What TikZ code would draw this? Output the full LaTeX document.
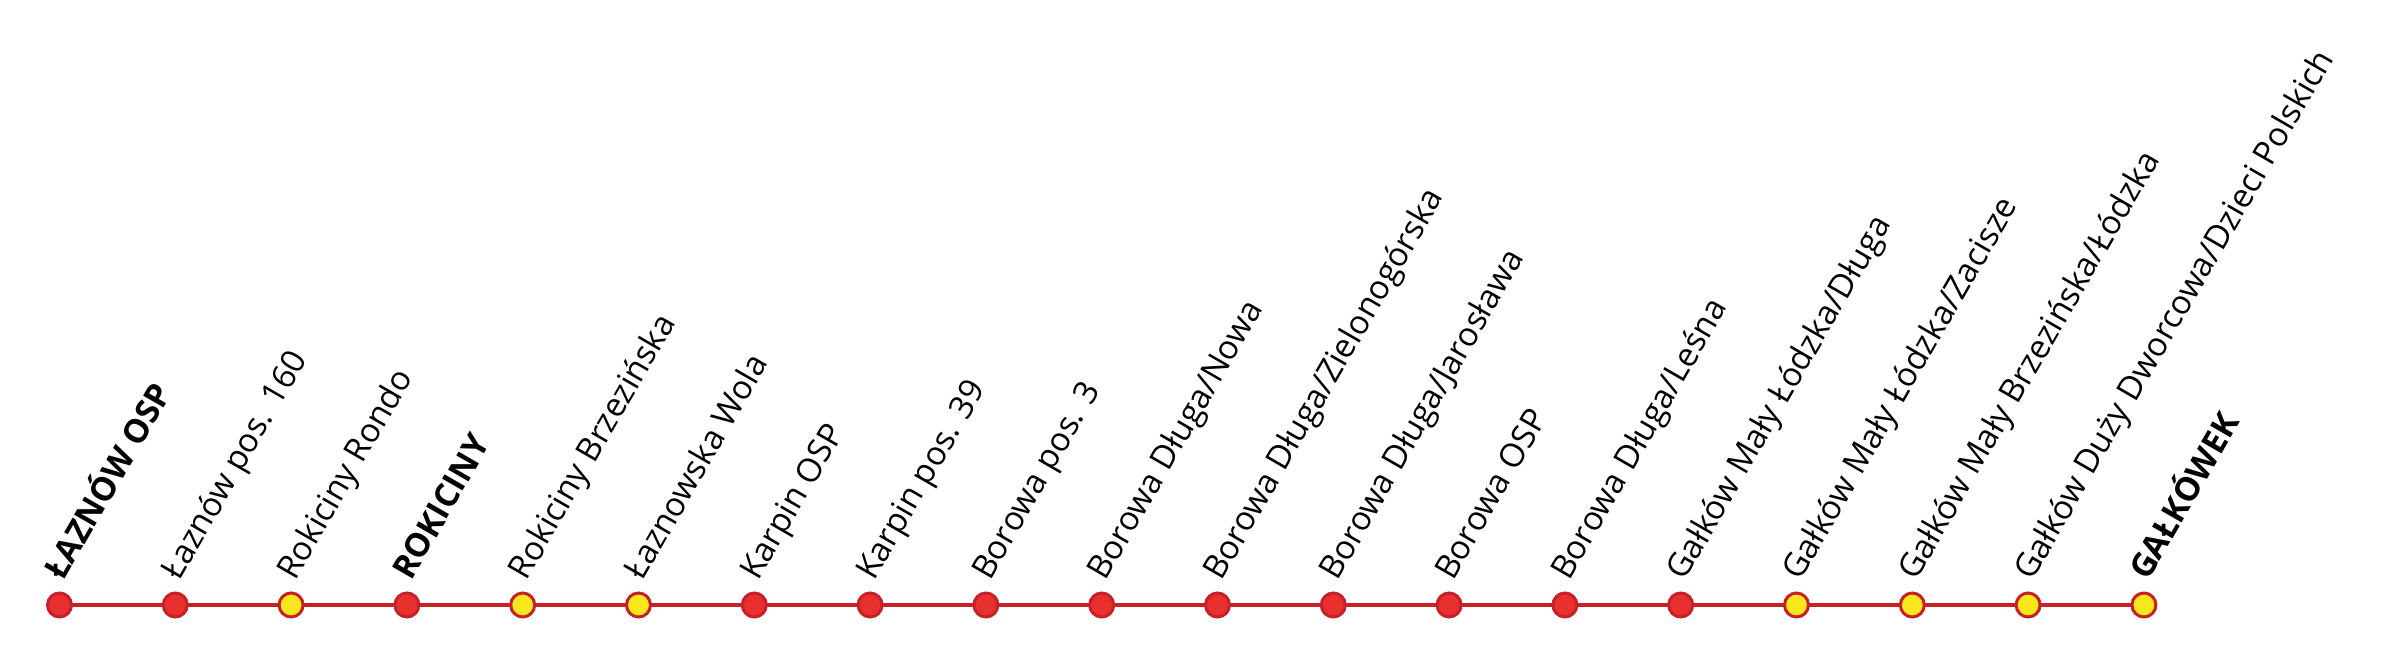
\documentclass[tikz,border=0pt]{standalone}
\usepackage{fontspec}
\setmainfont{Open Sans}
\usetikzlibrary{calc}
\definecolor{linered}{HTML}{C62128}
\definecolor{stopred}{HTML}{E8312F}
\definecolor{stopyellow}{HTML}{F7E71C}
\begin{document}
\begin{tikzpicture}[x=1pt,y=1pt,
  route/.style={draw=linered, line width=4pt},
  stopr/.style={circle, draw=linered, line width=3pt, fill=stopred, minimum size=24pt, inner sep=0pt},
  stopy/.style={circle, draw=linered, line width=3pt, fill=stopyellow, minimum size=24pt, inner sep=0pt},
  lbl/.style={rotate=60, anchor=base west, inner sep=0pt, font=\fontsize{33}{40}\selectfont},
  lblb/.style={lbl, font=\fontsize{33}{40}\selectfont\bfseries}]
\useasboundingbox (0,0) rectangle (2387,658);
\foreach \i in {0,...,18}{
  \coordinate (c\i) at ({59.5+115.8*\i},53);
}
\draw[route] (c0) -- (c18);
\foreach \i/\t/\s/\n in {
  0/stopr/lblb/{ŁAZNÓW OSP},
  1/stopr/lbl/{Łaznów pos. 160},
  2/stopy/lbl/{Rokiciny Rondo},
  3/stopr/lblb/{ROKICINY},
  4/stopy/lbl/{Rokiciny Brzezińska},
  5/stopy/lbl/{Łaznowska Wola},
  6/stopr/lbl/{Karpin OSP},
  7/stopr/lbl/{Karpin pos. 39},
  8/stopr/lbl/{Borowa pos. 3},
  9/stopr/lbl/{Borowa Długa/Nowa},
  10/stopr/lbl/{Borowa Długa/Zielonogórska},
  11/stopr/lbl/{Borowa Długa/Jarosława},
  12/stopr/lbl/{Borowa OSP},
  13/stopr/lbl/{Borowa Długa/Leśna},
  14/stopr/lbl/{Gałków Mały Łódzka/Długa},
  15/stopy/lbl/{Gałków Mały Łódzka/Zacisze},
  16/stopy/lbl/{Gałków Mały Brzezińska/Łódzka},
  17/stopy/lbl/{Gałków Duży Dworcowa/Dzieci Polskich},
  18/stopy/lblb/{GAŁKÓWEK}}{
  \node[\t] (s\i) at (c\i) {};
  \node[\s] (l\i) at ($(c\i)+(4,23)$) {\n};
}
\end{tikzpicture}
\end{document}
